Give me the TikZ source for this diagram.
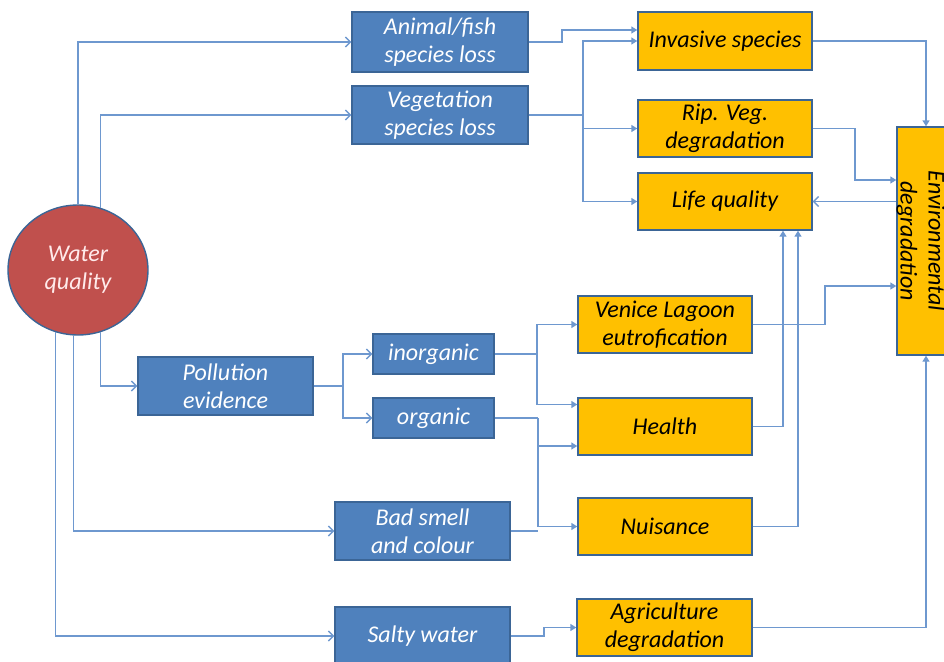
\documentclass[tikz,border=0pt]{standalone}
\usepackage{fontspec}
\setmainfont{Carlito}
\usetikzlibrary{arrows.meta,shapes.geometric}
\definecolor{boxblue}{HTML}{4F81BD}
\definecolor{edgeblue}{HTML}{3B6596}
\definecolor{boxorange}{HTML}{FFC000}
\definecolor{circred}{HTML}{C0504D}
\definecolor{linkblue}{HTML}{6E98CF}
\tikzset{
  every node/.style={font=\fontsize{24}{28}\selectfont\itshape, align=center, inner sep=0pt},
  causebox/.style={draw=edgeblue, line width=1.4pt, fill=boxblue, text=white},
  effectbox/.style={draw=edgeblue, line width=1.4pt, fill=boxorange, text=black},
  sourcecirc/.style={ellipse, draw=edgeblue, line width=1.4pt, fill=circred, text=white!92!red,
    minimum width=140pt, minimum height=130pt},
  link/.style={draw=linkblue, line width=1.4pt},
  tofill/.style={link, -{Triangle[length=6pt,width=7pt]}},
  toopen/.style={link, -{Straight Barb[length=5pt,width=10pt]}}
}
\begin{document}
\begin{tikzpicture}[x=1pt,y=-1pt]
\useasboundingbox (0,0) rectangle (944,661);
\clip (0,0) rectangle (944,661);

% source
\node[sourcecirc] (wq) at (78,270) {Water\\quality};

% pressures
\node[causebox, minimum width=176pt, minimum height=60pt] (anim) at (440,42) {Animal/fish\\species loss};
\node[causebox, minimum width=176pt, minimum height=58pt] (veg) at (440,115) {Vegetation\\species loss};
\node[causebox, minimum width=175pt, minimum height=58pt] (poll) at (225.5,386) {Pollution\\evidence};
\node[causebox, minimum width=121pt, minimum height=40pt] (inorg) at (433.5,354) {inorganic};
\node[causebox, minimum width=121pt, minimum height=40pt] (org) at (433.5,418) {organic};
\node[causebox, minimum width=175pt, minimum height=58pt] (smell) at (422.5,531) {Bad smell\\and colour};
\node[causebox, minimum width=175pt, minimum height=58pt] (salty) at (422.5,636) {Salty water};

% impacts
\node[effectbox, minimum width=174pt, minimum height=58pt] (inv) at (725,41) {Invasive species};
\node[effectbox, minimum width=174pt, minimum height=57pt] (rip) at (725,128.5) {Rip. Veg.\\degradation};
\node[effectbox, minimum width=174pt, minimum height=57pt] (life) at (725,201.5) {Life quality};
\node[effectbox, minimum width=174pt, minimum height=57pt] (venice) at (665,324.5) {Venice Lagoon\\eutrofication};
\node[effectbox, minimum width=174pt, minimum height=57pt] (health) at (665,426.5) {Health};
\node[effectbox, minimum width=174pt, minimum height=57pt] (nuis) at (665,526.5) {Nuisance};
\node[effectbox, minimum width=175pt, minimum height=57pt] (agri) at (664.5,627.5) {Agriculture\\degradation};
\node[effectbox, minimum width=58pt, minimum height=228pt] (env) at (926,241) {};
\node[rotate=-90] (envtext) at ([xshift=-5pt]env.center) {Environmental\\degradation};

% water quality branches
\draw[toopen] (wq.north) |- (anim.west);
\draw[toopen] (wq.70) |- (veg.west);
\draw[toopen] (wq.-70) |- (poll.west);
\draw[toopen] (wq.-94) |- (smell.west);
\draw[toopen] (wq.-110) |- (salty.west);

% species loss
\coordinate (ja) at (562,42);
\draw[tofill] (anim.east) -- (ja) -- (562,30) -- ([yshift=11pt]inv.west);
\coordinate (jv) at (583,115);
\draw[link] (veg.east) -- (jv);
\draw[tofill] (jv) |- (inv.west);
\draw[tofill] (jv) |- (rip.west);
\draw[tofill] (jv) |- (life.west);

% pollution
\coordinate (jp) at (343,386);
\draw[link] (poll.east) -- (jp);
\draw[toopen] (jp) |- (inorg.west);
\draw[toopen] (jp) |- (org.west);
\coordinate (ji) at (537,354);
\draw[link] (inorg.east) -- (ji);
\draw[tofill] (ji) |- (venice.west);
\draw[tofill] (ji) |- ([yshift=22pt]health.west);
\coordinate (jo) at (538,418);
\draw[link] (org.east) -- (jo);
\draw[tofill] (jo) |- ([yshift=-19.5pt]health.west);
\draw[tofill] (jo) |- (nuis.west);
\coordinate (js) at (538,531);
\draw[link] (smell.east) -- (js);
\coordinate (jt) at (544,636);
\draw[tofill] (salty.east) -- (jt) |- (agri.west);

% towards environmental degradation and life quality
\draw[tofill] (inv.east) -| (env.north);
\coordinate (jr) at (855,128.5);
\draw[tofill] (rip.east) -- (jr) |- ([yshift=61pt]env.west);
\coordinate (jl) at (825,324.5);
\draw[tofill] (venice.east) -- (jl) |- ([yshift=-45pt]env.west);
\draw[tofill] (agri.east) -| (env.south);
\draw[toopen] (env.west |- life.east) -- (life.east);
\draw[tofill] (health.east) -| ([xshift=58pt]life.south);
\draw[tofill] (nuis.east) -| ([xshift=73pt]life.south);
\end{tikzpicture}
\end{document}
